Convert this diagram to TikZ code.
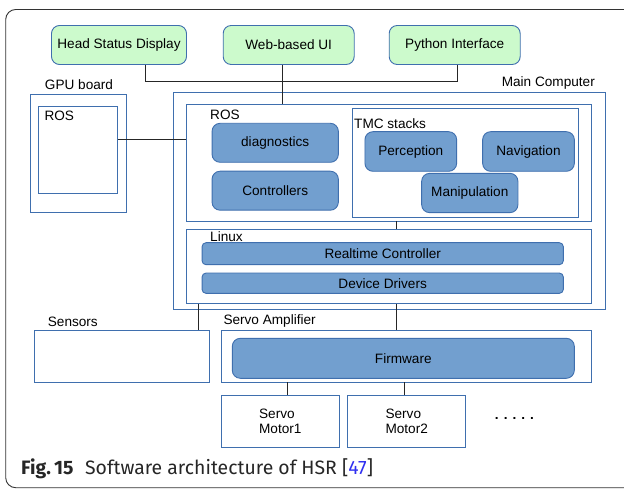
\documentclass[tikz,border=0pt]{standalone}
\usepackage{fontspec}
\setmainfont{Liberation Sans}
\newfontfamily\capfont{Fira Sans}
\usetikzlibrary{positioning}

\definecolor{uigreen}{HTML}{CCFACC}
\definecolor{modblue}{HTML}{729FCF}
\definecolor{edgeblue}{HTML}{3F6FAE}
\definecolor{refblue}{HTML}{3030F0}

\begin{document}
\begin{tikzpicture}[x=1pt,y=-1pt,
    font=\fontsize{13.6}{15}\selectfont,
    uibox/.style={draw=edgeblue, fill=uigreen, line width=0.9pt, rounded corners=8pt, inner sep=0pt},
    modbox/.style={draw=edgeblue, fill=modblue, line width=0.9pt, rounded corners=8pt, inner sep=0pt},
    hwbox/.style={draw=edgeblue, fill=white, line width=0.9pt, inner sep=0pt},
    tag/.style={anchor=west, inner sep=0pt},
    wire/.style={black!85, line width=0.9pt}]
    \useasboundingbox (0,0) rectangle (624,489);

    % outer frame of the figure
    \draw[black!80, line width=0.9pt, rounded corners=10pt] (624,9.5) -- (5.7,9.5) -- (5.7,487.7) -- (624,487.7);

    % user interfaces
    \node[uibox, minimum width=135pt, minimum height=39pt] (hsd) at (119,45) {Head Status Display};
    \node[uibox, minimum width=131pt, minimum height=39pt] (web) at (288.7,45) {Web-based UI};
    \node[uibox, minimum width=131pt, minimum height=39pt] (pyif) at (454.7,45) {Python Interface};

    % GPU board
    \node[hwbox, minimum width=96pt, minimum height=118pt] (gpu) at (78,153) {};
    \node[anchor=south, inner sep=0pt] (gpulbl) at (79,89.5) {GPU board};
    \node[hwbox, minimum width=78.6pt, minimum height=87pt] (gpuros) at (78,149.5) {};
    \node[tag] (gpuroslbl) at (44.3,116) {ROS};

    % main computer
    \node[hwbox, minimum width=431.7pt, minimum height=217pt] (main) at (389.2,200.8) {};
    \node[anchor=south east, inner sep=0pt] (mainlbl) at (595,89.5) {Main Computer};
    \node[hwbox, minimum width=404.6pt, minimum height=117pt] (ros) at (389,162.5) {};
    \node[tag] (roslbl) at (210,115) {ROS};
    \node[modbox, minimum width=126.3pt, minimum height=39pt] (diag) at (275.2,142.8) {diagnostics};
    \node[modbox, minimum width=126.3pt, minimum height=39pt] (ctrl) at (275.2,190.7) {Controllers};
    \node[hwbox, minimum width=226.4pt, minimum height=108.7pt] (tmc) at (465.5,162.7) {};
    \node[tag] (tmclbl) at (354,123.3) {TMC stacks};
    \node[modbox, minimum width=91.7pt, minimum height=39.6pt] (perc) at (410.8,151.5) {Perception};
    \node[modbox, minimum width=91.7pt, minimum height=39.6pt] (navi) at (528.5,151.5) {Navigation};
    \node[modbox, minimum width=96.3pt, minimum height=39.3pt] (manip) at (469.8,193) {Manipulation};
    \node[hwbox, minimum width=404.6pt, minimum height=73.7pt] (linux) at (389,266.8) {};
    \node[tag] (linuxlbl) at (210,237) {Linux};
    \node[modbox, rounded corners=4pt, minimum width=361.3pt, minimum height=22pt] (rtc) at (382.7,253.7) {Realtime Controller};
    \node[modbox, rounded corners=4pt, minimum width=361.3pt, minimum height=20.3pt] (drv) at (382.7,283.2) {Device Drivers};

    % sensors and servo amplifier
    \node[hwbox, minimum width=174.7pt, minimum height=52pt] (sens) at (121.7,356) {};
    \node[tag] (senslbl) at (47.7,321.7) {Sensors};
    \node[hwbox, minimum width=370.4pt, minimum height=52pt] (amp) at (406.5,356) {};
    \node[tag] (amplbl) at (223.3,321.3) {Servo Amplifier};
    \node[modbox, minimum width=342pt, minimum height=40pt] (firm) at (403.3,358.3) {Firmware};
    \node[hwbox, minimum width=118pt, minimum height=52pt, align=left] (mot1) at (280.3,421) {Servo\\Motor1};
    \node[hwbox, minimum width=118pt, minimum height=52pt, align=left] (mot2) at (406.7,421) {Servo\\Motor2};
    \node[anchor=base, inner sep=0pt, font=\bfseries\fontsize{13.6}{15}\selectfont] (more) at (514.5,419) {. . . . .};

    % connectors
    \coordinate (busl) at (145.7,81.7);
    \coordinate (busr) at (457,81.7);
    \coordinate (webx) at (282.7,81.7);
    \coordinate (gpuy) at (150,139.3);
    \coordinate (rosx) at (396,0);
    \coordinate (sensx) at (198.3,0);
    \coordinate (mot1x) at (287.3,0);
    \coordinate (mot2x) at (404.7,0);
    \draw[wire] (hsd.south -| busl) -- (busl) -- (busr) -- (pyif.south -| busr);
    \draw[wire] (web.south -| webx) -- (ros.north -| webx);
    \draw[wire] (gpuros.east |- gpuy) -- (ros.west |- gpuy);
    \draw[wire] (ros.south -| rosx) -- (linux.north -| rosx);
    \draw[wire] (linux.south -| sensx) -- (sens.north -| sensx);
    \draw[wire] (linux.south -| rosx) -- (amp.north -| rosx);
    \draw[wire] (amp.south -| mot1x) -- (mot1.north -| mot1x);
    \draw[wire] (amp.south -| mot2x) -- (mot2.north -| mot2x);

    % caption
    \node[anchor=base west, inner sep=0pt, text=black!85, font=\capfont\fontsize{19.4}{22}\selectfont] (cap) at (21,474.7)
      {\textbf{Fig.\,15}\hspace{0.6em}Software architecture of HSR [\textcolor{refblue}{47}]};
\end{tikzpicture}
\end{document}
